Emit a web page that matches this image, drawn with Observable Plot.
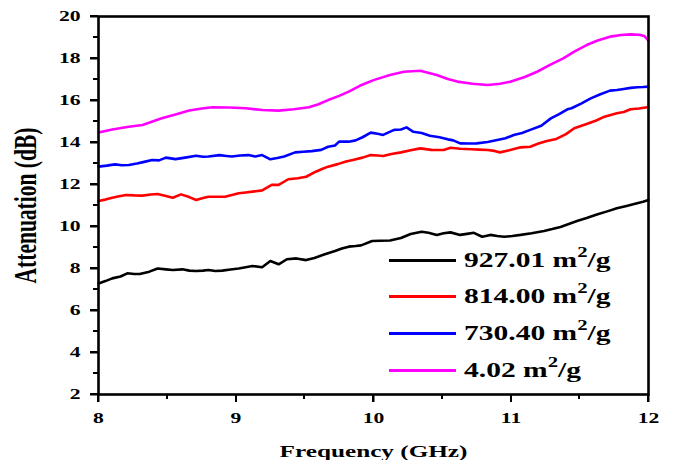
<!DOCTYPE html>
<html>
<head>
<meta charset="utf-8">
<script src="https://cdn.jsdelivr.net/npm/d3@7"></script>
<script src="https://cdn.jsdelivr.net/npm/@observablehq/plot@0.6"></script>
<style>
  html, body { margin: 0; padding: 0; background: #fff; }
  #wrap { position: relative; width: 678px; height: 460px; background: #fff; overflow: hidden; }
  #wrap svg { position: absolute; left: 0; top: 0; }
  .lg-line { position: absolute; height: 3px; }
  .tk { position: absolute; background: #000; z-index: 5; }
  .lg-text { position: absolute; font-family: 'Liberation Serif', 'Times New Roman', serif; font-weight: bold;
             font-size: 20.5px; line-height: 1; white-space: nowrap; color: #000;
             transform: scaleX(1.44); transform-origin: left center; }
  .lg-text sup { font-size: 0.7em; vertical-align: 10px; line-height: 0; }
</style>
</head>
<body>
<div id="wrap"></div>
<script>
// ---- data ----
const seriesNames = ["927.01", "814.00", "730.40", "4.02"];
const seriesColors = ["#000000", "#ff0000", "#0000ff", "#ff00ff"];

const freqA = [8.0,8.05,8.1,8.16,8.21,8.26,8.3,8.37,8.43,8.49,8.54,8.61,8.66,8.71,8.76,8.8,8.85,8.9,8.96,9.02,9.07,9.12,9.19,9.25,9.31,9.37,9.44,9.51,9.57,9.63,9.68,9.72,9.77,9.82,9.87,9.91,9.99,10.05,10.12,10.2,10.27,10.35,10.4,10.46,10.51,10.56,10.63,10.68,10.73,10.79,10.85,10.9,10.95,11.01,11.07,11.15,11.24,11.3,11.36,11.42,11.48,11.55,11.63,11.7,11.77,11.84,11.91,11.96,12.0];
const attA  = [7.29,7.4,7.53,7.62,7.77,7.74,7.74,7.85,8.0,7.96,7.93,7.96,7.9,7.88,7.9,7.93,7.88,7.9,7.95,8.0,8.06,8.12,8.06,8.36,8.2,8.44,8.48,8.4,8.5,8.64,8.75,8.83,8.95,9.04,9.07,9.1,9.31,9.32,9.33,9.45,9.64,9.75,9.7,9.6,9.68,9.72,9.6,9.65,9.7,9.51,9.6,9.55,9.51,9.55,9.6,9.68,9.79,9.88,9.98,10.12,10.26,10.4,10.58,10.72,10.87,10.98,11.1,11.18,11.26];

const freqB = [8.0,8.05,8.1,8.15,8.2,8.26,8.32,8.38,8.43,8.49,8.54,8.6,8.66,8.71,8.76,8.8,8.86,8.92,8.97,9.02,9.07,9.12,9.19,9.26,9.31,9.38,9.45,9.51,9.58,9.63,9.67,9.74,9.8,9.85,9.92,9.98,10.03,10.07,10.13,10.2,10.27,10.34,10.42,10.51,10.56,10.63,10.71,10.77,10.83,10.88,10.92,10.98,11.07,11.14,11.2,11.26,11.33,11.4,11.46,11.55,11.62,11.68,11.77,11.82,11.87,11.93,11.99,12.0];
const attB  = [11.21,11.28,11.37,11.44,11.5,11.48,11.47,11.52,11.55,11.45,11.37,11.53,11.4,11.26,11.36,11.42,11.42,11.42,11.5,11.58,11.62,11.66,11.72,11.98,11.98,12.25,12.3,12.37,12.61,12.75,12.85,12.97,13.09,13.17,13.28,13.4,13.38,13.36,13.45,13.53,13.63,13.72,13.65,13.64,13.75,13.7,13.68,13.66,13.64,13.6,13.53,13.62,13.77,13.8,13.95,14.07,14.17,14.4,14.68,14.88,15.05,15.23,15.39,15.45,15.58,15.62,15.68,15.68];

const freqC = [8.0,8.06,8.12,8.17,8.22,8.28,8.34,8.39,8.44,8.49,8.56,8.63,8.71,8.76,8.8,8.88,8.93,8.97,9.03,9.09,9.14,9.19,9.25,9.3,9.35,9.43,9.49,9.55,9.62,9.67,9.72,9.75,9.82,9.87,9.92,9.98,10.03,10.07,10.15,10.2,10.24,10.29,10.35,10.41,10.48,10.54,10.58,10.63,10.69,10.75,10.83,10.9,10.96,11.02,11.08,11.14,11.22,11.29,11.35,11.41,11.44,11.51,11.58,11.65,11.72,11.77,11.82,11.87,11.92,11.96,12.0];
const attC  = [12.85,12.9,12.96,12.92,12.93,13.0,13.09,13.17,13.15,13.28,13.21,13.28,13.37,13.32,13.33,13.4,13.36,13.33,13.38,13.4,13.33,13.4,13.2,13.26,13.33,13.53,13.56,13.59,13.65,13.8,13.86,14.04,14.04,14.1,14.25,14.47,14.42,14.36,14.6,14.62,14.72,14.51,14.45,14.32,14.25,14.15,14.1,13.96,13.95,13.96,14.02,14.12,14.2,14.36,14.45,14.6,14.8,15.15,15.35,15.58,15.63,15.85,16.1,16.3,16.47,16.5,16.55,16.6,16.63,16.64,16.66];

const freqD = [8.0,8.1,8.22,8.32,8.46,8.56,8.66,8.75,8.83,8.95,9.07,9.19,9.31,9.42,9.53,9.6,9.67,9.75,9.82,9.9,10.0,10.12,10.22,10.34,10.46,10.54,10.61,10.72,10.83,10.92,11.0,11.1,11.19,11.28,11.38,11.46,11.55,11.63,11.72,11.8,11.87,11.93,11.97,12.0];
const attD  = [14.48,14.62,14.75,14.83,15.15,15.33,15.52,15.62,15.68,15.67,15.63,15.55,15.52,15.58,15.68,15.82,16.02,16.22,16.42,16.7,16.97,17.21,17.37,17.42,17.21,17.02,16.9,16.8,16.74,16.8,16.9,17.12,17.37,17.68,18.01,18.33,18.64,18.86,19.04,19.12,19.15,19.13,19.07,18.85];

const xTicks = [8, 9, 10, 11, 12];
const xMinor = [8.5, 9.5, 10.5, 11.5];
const yTicks = [2, 4, 6, 8, 10, 12, 14, 16, 18, 20];
const yMinor = [3, 5, 7, 9, 11, 13, 15, 17, 19];

// ---- build table ----
const freqs = [freqA, freqB, freqC, freqD];
const atts = [attA, attB, attC, attD];
const rows = [];
seriesNames.forEach((name, i) => {
  freqs[i].forEach((f, j) => rows.push({series: name, f, a: atts[i][j]}));
});

const FONT = "'Liberation Serif', 'Times New Roman', serif";
const K = 1.44; // horizontal stretch of the reference typography
const MAJOR = 8, MINOR = 5;

const chart = Plot.plot({
  width: 678,
  height: 460,
  marginLeft: 98,
  marginRight: 30,
  marginTop: 16,
  marginBottom: 66,
  style: {fontFamily: FONT, fontSize: "15px", fontWeight: "bold", color: "black"},
  x: {domain: [8, 12]},
  y: {domain: [2, 20]},
  color: {domain: seriesNames, range: seriesColors},
  marks: [
    Plot.axisY({ticks: yTicks, tickSize: MAJOR, tickPadding: 10, strokeWidth: 2, tickFormat: d => String(d), label: "Attenuation (dB)", labelAnchor: "center", labelOffset: 80, labelArrow: "none"}),
    Plot.axisX({ticks: xTicks, tickSize: MAJOR, tickPadding: 10, strokeWidth: 2, tickFormat: d => String(d), label: "Frequency (GHz)", labelAnchor: "center", labelOffset: 62, labelArrow: "none"}),
    Plot.line(rows, {x: "f", y: "a", z: "series", stroke: "series", strokeWidth: 2.6}),
    Plot.frame({stroke: "black", strokeWidth: 2.6})
  ]
});

const wrap = document.getElementById("wrap");
wrap.append(chart);
const sr = chart.getBoundingClientRect();
const NS = "http://www.w3.org/2000/svg";

// stretch tick labels horizontally like the reference
chart.querySelectorAll('g[aria-label$="tick label"] text').forEach(t => {
  const L = t.getComputedTextLength();
  if (L > 0) { t.setAttribute("textLength", L * K); t.setAttribute("lengthAdjust", "spacingAndGlyphs"); }
});
// x label
chart.querySelectorAll('g[aria-label="x-axis label"] text').forEach(t => {
  t.style.fontSize = "17.5px";
  const L = t.getComputedTextLength();
  t.setAttribute("textLength", L * K); t.setAttribute("lengthAdjust", "spacingAndGlyphs");
});
// y label (rotated): stretch in screen x around its centre
const yl = chart.querySelector('g[aria-label="y-axis label"]');
if (yl) {
  yl.querySelectorAll("text").forEach(t => t.style.fontSize = "21.5px");
  const r = yl.getBoundingClientRect();
  const cx = r.left + r.width / 2 - sr.left;
  const target = 26;
  const g = document.createElementNS(NS, "g");
  g.setAttribute("transform", `translate(${target},0) scale(${K},1) translate(${-cx},0)`);
  yl.parentNode.insertBefore(g, yl);
  g.appendChild(yl);
}

// legend (inside plot, lower right)
const legendTop = 260, legendStep = 36.7;
seriesNames.forEach((name, i) => {
  const cy = legendTop + i * legendStep;
  const line = document.createElement("div");
  line.className = "lg-line";
  line.style.left = "389px"; line.style.width = "67px";
  line.style.top = (cy - 1.5) + "px";
  line.style.background = seriesColors[i];
  wrap.append(line);
  const txt = document.createElement("div");
  txt.className = "lg-text";
  txt.style.left = "464px";
  txt.style.top = (cy - 10.4) + "px";
  txt.innerHTML = `${name} m<sup>2</sup>/g`;
  wrap.append(txt);
});

// tick marks as an overlay layer on top, positioned with Plot's own x and y scales
const xs = chart.scale("x"), ys = chart.scale("y");
const x0 = Math.min(...xs.range), y0 = Math.max(...ys.range);
function tick(left, top, w, h) {
  const d = document.createElement("div");
  d.className = "tk";
  d.style.left = left + "px"; d.style.top = top + "px";
  d.style.width = w + "px"; d.style.height = h + "px";
  wrap.append(d);
}
yTicks.forEach(v => tick(Math.round(x0 - MAJOR), Math.round(ys.apply(v) - 1), MAJOR, 2));
yMinor.forEach(v => tick(Math.round(x0 - MINOR), Math.round(ys.apply(v) - 1), MINOR, 2));
xTicks.forEach(v => tick(Math.round(xs.apply(v) - 1), Math.round(y0), 2, MAJOR));
xMinor.forEach(v => tick(Math.round(xs.apply(v) - 1), Math.round(y0), 2, MINOR));
</script>
</body>
</html>
